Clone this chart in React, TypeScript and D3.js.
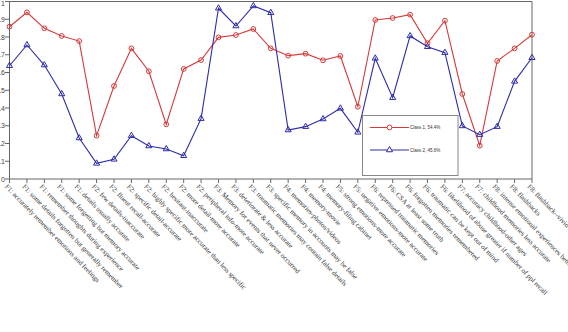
import React from "react";
import * as d3 from "d3";

const categories = [
  "F1: accurately remember emotions and feelings",
  "F1: some details forgotten but generally remember",
  "F1: remember thoughts during experience",
  "F1: some forgetting but memory accurate",
  "F1: details usually accurate",
  "F2: few details-inaccurate",
  "F2: fluent recall-accurate",
  "F2: specific detail-accurate",
  "F2: highly specific more accurate than less specific",
  "F2: hesitant-inaccurate",
  "F2: more detail-more accurate",
  "F2: peripheral info-more accurate",
  "F3: Memory for events that never occurred",
  "F3: deteriorate & less accurate",
  "F3: traumatic memories may contain false details",
  "F3: specific memory in accounts may be false",
  "F4: memories-photos/videos",
  "F4: memory-movie",
  "F4: memory-filing cabinet",
  "F5: strong emotions-more accurate",
  "F5: negative emotions-more accurate",
  "F6: repressed traumatic memories",
  "F6: CSA at least some truth",
  "F6: forgotten memories remembered",
  "F6: traumatic can be kept out of mind",
  "F6: likelihood of abuse greater if number of ppl recall",
  "F7: accuracy childhood-other ages",
  "F7: childhood memories less accurate",
  "F8: intense emotional experiences better remembered",
  "F8: flashbacks",
  "F8: flashback--vivid memories",
];

const class1 = [
  0.858, 0.939, 0.849, 0.806, 0.777, 0.244, 0.524, 0.736, 0.607, 0.308, 0.62,
  0.67, 0.798, 0.811, 0.845, 0.736, 0.695, 0.706, 0.669, 0.693, 0.407, 0.896,
  0.907, 0.926, 0.765, 0.892, 0.479, 0.188, 0.665, 0.736, 0.813,
];

const class2 = [
  0.638, 0.755, 0.642, 0.479, 0.231, 0.088, 0.111, 0.244, 0.186, 0.169, 0.131,
  0.34, 0.962, 0.862, 0.975, 0.937, 0.276, 0.295, 0.338, 0.398, 0.263, 0.68,
  0.458, 0.806, 0.745, 0.712, 0.299, 0.25, 0.295, 0.55, 0.683,
];

const yTicks = [0, 0.1, 0.2, 0.3, 0.4, 0.5, 0.6, 0.7, 0.8, 0.9, 1];
const yTickLabels = ["0", ".1", ".2", ".3", ".4", ".5", ".6", ".7", ".8", ".9", "1"];
const legendLabels = ["Class 1, 54.4%", "Class 2, 45.6%"];

const RED = "#d43a3a";
const BLUE = "#2c2caa";

const left = 9.5;
const right = 532;
const top = 1.5;
const bottom = 179;

const triangle = d3.symbol(d3.symbolTriangle, 16);

export default function App() {
  const x = d3.scalePoint<string>().domain(categories).range([left, right]);
  const y = d3.scaleLinear().domain([0, 1]).range([bottom, top]);

  const line = d3
    .line<number>()
    .x((_, i) => x(categories[i])!)
    .y((d) => y(d));

  return (
    <svg
      width={568}
      height={332}
      style={{ position: "absolute", left: 0, top: 0, background: "#fff" }}
    >
      {/* frame */}
      <path
        d={`M${left},${bottom}V${top}H${right}V${bottom}H${left}`}
        fill="none"
        stroke="#666"
        strokeWidth={1}
      />

      {/* y axis */}
      {yTicks.map((t, i) => (
        <g key={t}>
          <line x1={5} x2={left} y1={y(t)} y2={y(t)} stroke="#666" />
          <text
            x={5}
            y={Math.max(y(t) + 2.5, 6)}
            textAnchor="end"
            fontFamily="Liberation Sans, Arial, sans-serif"
            fontSize={7}
            fill="#444"
          >
            {yTickLabels[i]}
          </text>
        </g>
      ))}

      {/* x axis ticks and rotated labels */}
      {categories.map((c) => {
        const cx = x(c)!;
        return (
          <g key={c}>
            <line x1={cx} x2={cx} y1={bottom} y2={bottom + 4} stroke="#666" />
            <text
              transform={`translate(${cx - 5},${bottom + 8}) rotate(46)`}
              fontFamily="Liberation Serif, Times New Roman, serif"
              fontSize={7}
              fill="#333"
            >
              {c}
            </text>
          </g>
        );
      })}

      {/* series lines */}
      <path d={line(class1)!} fill="none" stroke={RED} strokeWidth={1.1} />
      <path d={line(class2)!} fill="none" stroke={BLUE} strokeWidth={1.1} />

      {class1.map((v, i) => (
        <circle
          key={`c1-${i}`}
          cx={x(categories[i])}
          cy={y(v)}
          r={2.4}
          fill="none"
          stroke={RED}
          strokeWidth={1}
        />
      ))}
      {class2.map((v, i) => (
        <path
          key={`c2-${i}`}
          d={triangle()!}
          transform={`translate(${x(categories[i])},${y(v)})`}
          fill="none"
          stroke={BLUE}
          strokeWidth={1}
        />
      ))}

      {/* legend */}
      <g>
        <rect
          x={362.5}
          y={115.5}
          width={95.5}
          height={60}
          fill="#fff"
          stroke="#888"
          strokeWidth={1}
        />
        {[RED, BLUE].map((col, i) => {
          const ly = 127.5 + i * 22.5;
          return (
            <g key={col}>
              <line x1={370} x2={409} y1={ly} y2={ly} stroke={col} strokeWidth={1.2} />
              {i === 0 ? (
                <circle cx={389.5} cy={ly} r={2.4} fill="#fff" stroke={col} />
              ) : (
                <path
                  d={triangle()!}
                  transform={`translate(389.5,${ly})`}
                  fill="#fff"
                  stroke={col}
                />
              )}
              <text
                x={410}
                y={ly + 1.6}
                fontFamily="Liberation Sans, Arial, sans-serif"
                fontSize={4.5}
                fill="#333"
              >
                {legendLabels[i]}
              </text>
            </g>
          );
        })}
      </g>
    </svg>
  );
}
